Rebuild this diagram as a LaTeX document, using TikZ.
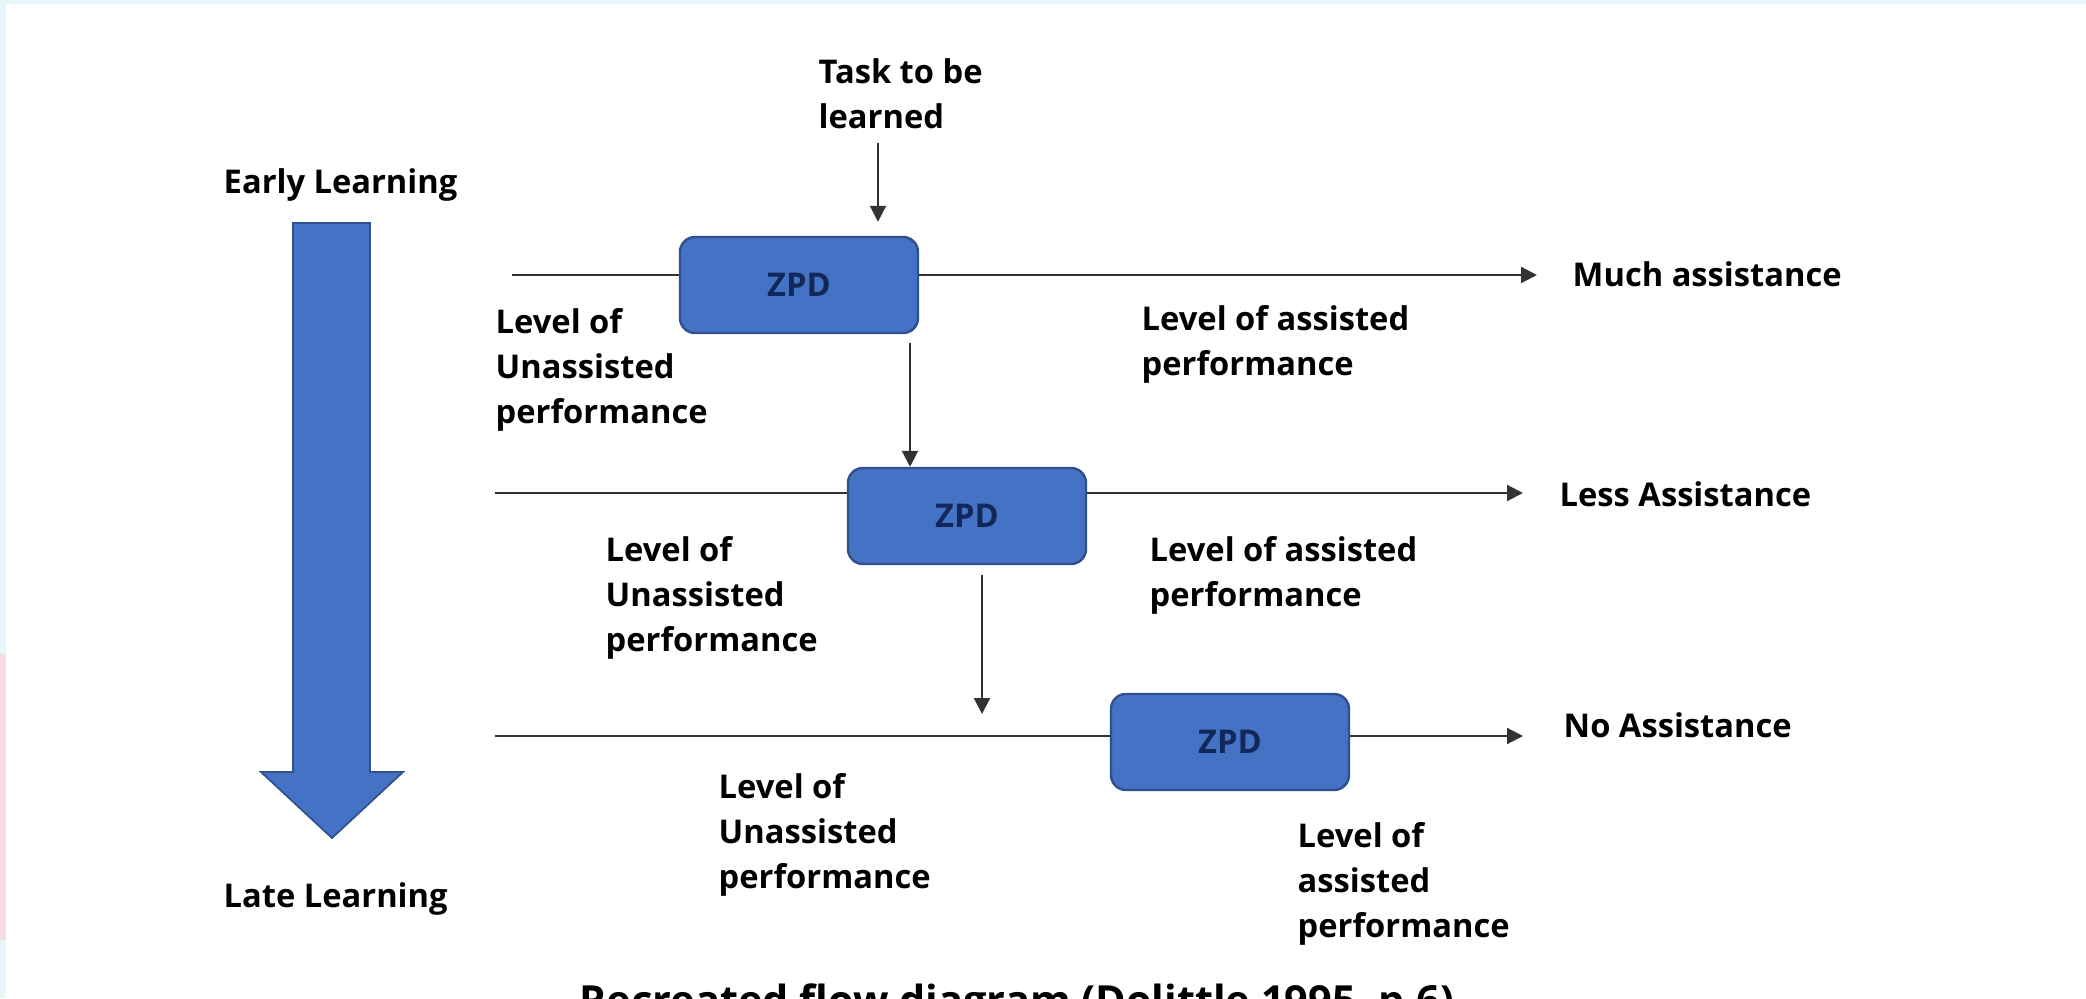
\documentclass[tikz,border=0pt]{standalone}
\usepackage{fontspec}
\setmainfont{Open Sans}
\usetikzlibrary{arrows.meta}
\definecolor{zpdblue}{HTML}{4472C4}
\definecolor{zpdedge}{HTML}{2F528F}
\definecolor{zpdtext}{HTML}{13285A}
\definecolor{linegray}{HTML}{333333}
\definecolor{edgecyan}{HTML}{E4F6F8}
\definecolor{edgepink}{HTML}{F6DDE4}
\tikzset{
  lbl/.style={inner sep=0pt, align=left, font=\fontsize{9.3pt}{12.8pt}\selectfont\bfseries},
  zpd/.style={rectangle, rounded corners=0.15cm, fill=zpdblue, draw=zpdedge, line width=0.7pt,
    minimum width=2.38cm, minimum height=0.96cm, text=zpdtext, font=\fontsize{9.3pt}{11pt}\selectfont\bfseries},
  flow/.style={draw=linegray, line width=0.6pt},
  tip/.style={-{Triangle[length=0.16cm,width=0.16cm]}}
}
\begin{document}
\begin{tikzpicture}
   \useasboundingbox (0,0) rectangle (20.86,9.98);
   \fill[edgecyan] (0,0) rectangle (20.86,9.98);
   \fill[white] (0.06,0) rectangle (20.86,9.94);
   \fill[edgepink] (0,0.58) rectangle (0.06,3.44);

   % big arrow, early to late
   \filldraw[fill=zpdblue, draw=zpdedge, line width=0.5pt] (2.93,7.75) -- (3.70,7.75) --
   (3.70,2.26) -- (4.03,2.26) -- (3.32,1.60) -- (2.61,2.26) -- (2.93,2.26) -- cycle;
   \node[lbl, anchor=base west] (early) at (2.23,8.04) {Early Learning};
   \node[lbl, anchor=base west] (late) at (2.23,0.91) {Late Learning};

   \node[zpd] (zpd1) at (7.99,7.13) {ZPD};
   \node[zpd] (zpd2) at (9.67,4.82) {ZPD};
   \node[zpd] (zpd3) at (12.30,2.56) {ZPD};

   \node[lbl, anchor=north west] (task) at (8.18,9.40) {Task to be\\learned};

   \node[lbl, anchor=base west] (much) at (15.72,7.11) {Much assistance};
   \node[lbl, anchor=base west] (less) at (15.59,4.91) {Less Assistance};
   \node[lbl, anchor=base west] (none) at (15.63,2.61) {No Assistance};

   \node[lbl, anchor=north west] (unas1) at (4.95,6.90) {Level of\\Unassisted\\performance};
   \node[lbl, anchor=north west] (asst1) at (11.41,6.93) {Level of assisted\\performance};
   \node[lbl, anchor=north west] (unas2) at (6.05,4.62) {Level of\\Unassisted\\performance};
   \node[lbl, anchor=north west] (asst2) at (11.49,4.62) {Level of assisted\\performance};
   \node[lbl, anchor=north west] (unas3) at (7.18,2.25) {Level of\\Unassisted\\performance};
   \node[lbl, anchor=north west] (asst3) at (12.97,1.76) {Level of\\assisted\\performance};

   % the three levels
   \coordinate (in1) at (5.12,7.23);
   \coordinate (in2) at (4.95,5.05);
   \coordinate (in3) at (4.95,2.62);
   \draw[flow] (in1) -- (in1 -| zpd1.west);
   \draw[flow,tip,shorten >=0.35cm] (in1 -| zpd1.east) -- (in1 -| much.west);
   \draw[flow] (in2) -- (in2 -| zpd2.west);
   \draw[flow,tip,shorten >=0.36cm] (in2 -| zpd2.east) -- (in2 -| less.west);
   \draw[flow] (in3) -- (in3 -| zpd3.west);
   \draw[flow,tip,shorten >=0.40cm] (in3 -| zpd3.east) -- (in3 -| none.west);

   % downward arrows
   \coordinate (d1) at (8.78,0);
   \coordinate (d2) at (9.10,0);
   \coordinate (d3) at (9.82,0);
   \draw[flow,tip,shorten <=0.13cm,shorten >=0.14cm] (task.south -| d1) -- (zpd1.north -| d1);
   \draw[flow,tip,shorten <=0.09cm] (zpd1.south -| d2) -- (zpd2.north -| d2);
   \draw[flow,tip,shorten <=0.10cm,shorten >=0.22cm] (zpd2.south -| d3) -- (in3 -| d3);

   \node[font=\fontsize{11.8pt}{14pt}\selectfont\bfseries, anchor=base] (caption) at (10.17,-0.17)
   {Recreated flow diagram (Dolittle 1995, p.6)};
\end{tikzpicture}
\end{document}
